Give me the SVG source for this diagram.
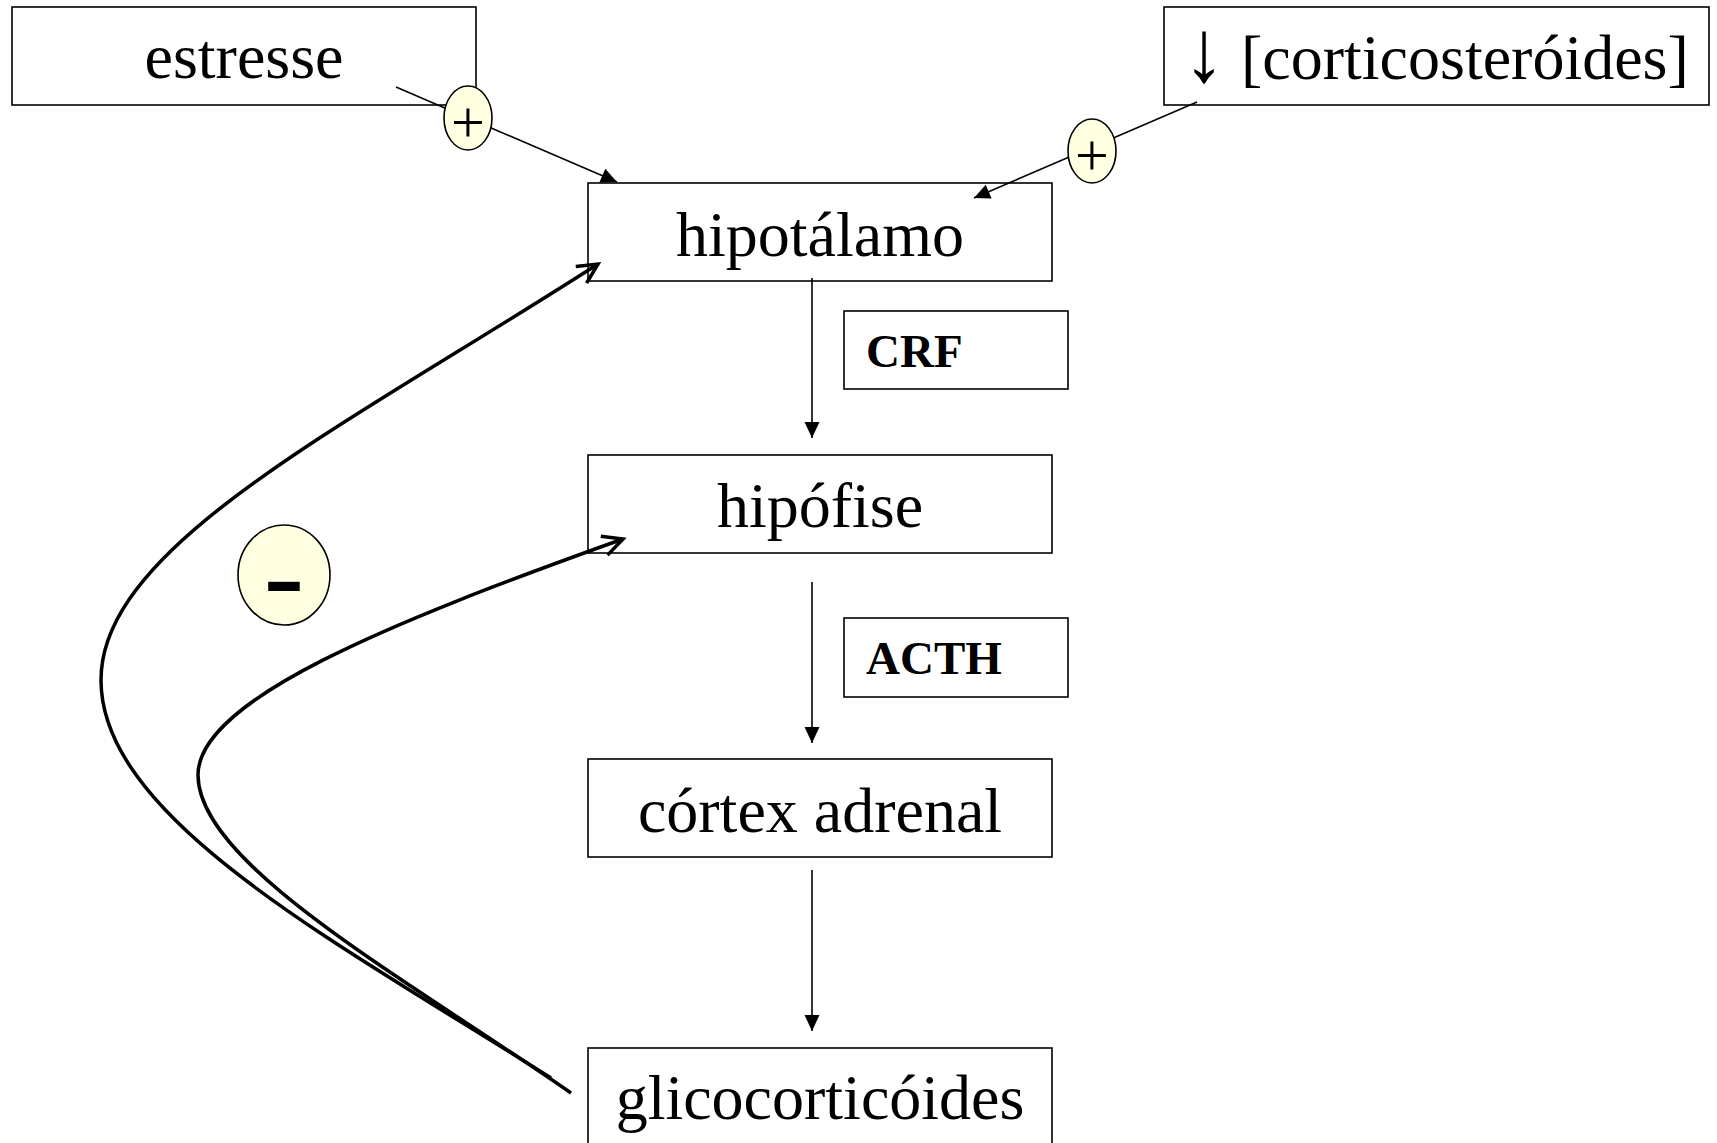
<svg xmlns="http://www.w3.org/2000/svg" width="1717" height="1143" viewBox="0 0 1717 1143">
<style>
.box{fill:none;stroke:#000;stroke-width:1.6}
.t{font-family:"Liberation Serif","Times New Roman",serif;font-size:64px;fill:#000;text-anchor:middle}
.lbl{font-family:"Liberation Serif","Times New Roman",serif;font-size:47px;font-weight:bold;fill:#000}
.sign{fill:#FFFFE1;stroke:#000;stroke-width:1.6}
.plus{font-family:"Liberation Serif","Times New Roman",serif;font-size:60px;fill:#000;text-anchor:middle}
.thin{fill:none;stroke:#000;stroke-width:1.6}
.fb{fill:none;stroke:#000;stroke-width:3.5}
</style>
<defs>
<marker id="tri" markerUnits="userSpaceOnUse" markerWidth="20" markerHeight="20" refX="0" refY="0" orient="auto" overflow="visible">
<path d="M-16,-7.5 L0,0 L-16,7.5 z" fill="#000"/>
</marker>
<marker id="open" markerUnits="userSpaceOnUse" markerWidth="30" markerHeight="30" refX="0" refY="0" orient="auto" overflow="visible">
<path d="M-20,-10 L0,0 L-20,10" fill="none" stroke="#000" stroke-width="3.5"/>
</marker>
</defs>
<g id="estresse">
<rect class="box" x="12" y="7" width="464" height="98"/>
<text class="t" x="244" y="78">estresse</text>
</g>
<g id="corticosteroides">
<rect class="box" x="1164" y="7" width="545" height="98"/>
<text class="t" transform="translate(1204,81) scale(1.3,1.38)" x="0" y="0">↓</text>
<text class="t" x="1241" y="79" style="text-anchor:start">[corticosteróides]</text>
</g>
<g id="hipotalamo">
<rect class="box" x="588" y="183" width="464" height="98"/>
<text class="t" x="820" y="256">hipotálamo</text>
</g>
<g id="crf">
<rect class="box" x="844" y="311" width="224" height="78"/>
<text class="lbl" x="866" y="367">CRF</text>
</g>
<g id="hipofise">
<rect class="box" x="588" y="455" width="464" height="98"/>
<text class="t" x="820" y="527">hipófise</text>
</g>
<g id="acth">
<rect class="box" x="844" y="618" width="224" height="79"/>
<text class="lbl" x="866" y="674">ACTH</text>
</g>
<g id="cortex">
<rect class="box" x="588" y="759" width="464" height="98"/>
<text class="t" x="820" y="832">córtex adrenal</text>
</g>
<g id="glicocorticoides">
<rect class="box" x="588" y="1048" width="464" height="110"/>
<text class="t" x="820" y="1119">glicocorticóides</text>
</g>
<g id="connectors">
<line class="thin" x1="396" y1="87" x2="617" y2="182" marker-end="url(#tri)"/>
<line class="thin" x1="1197" y1="102" x2="974" y2="198" marker-end="url(#tri)"/>
<line class="thin" x1="812" y1="278" x2="812" y2="438" marker-end="url(#tri)"/>
<line class="thin" x1="812" y1="582" x2="812" y2="743" marker-end="url(#tri)"/>
<line class="thin" x1="812" y1="870" x2="812" y2="1031" marker-end="url(#tri)"/>
<path class="fb" d="M551,1078 C340,944 101,820 101,680 C101,545 346,426 598,264" marker-end="url(#open)"/>
<path class="fb" d="M571,1093 C407,979 198,865 198,775 C198,700 388,623 623,539" marker-end="url(#open)"/>
</g>
<g id="plus1">
<ellipse class="sign" cx="468" cy="118" rx="24" ry="32"/>
<text class="plus" x="468" y="142">+</text>
</g>
<g id="plus2">
<ellipse class="sign" cx="1092" cy="151" rx="24" ry="32"/>
<text class="plus" x="1092" y="175">+</text>
</g>
<g id="minus">
<ellipse class="sign" cx="284" cy="575" rx="46" ry="50"/>
<text transform="translate(284,586) scale(1.1,1.6)" x="0" y="15.6" font-family="Liberation Sans, Arial, sans-serif" font-size="58" font-weight="bold" text-anchor="middle" fill="#000">–</text>
</g>
</svg>
